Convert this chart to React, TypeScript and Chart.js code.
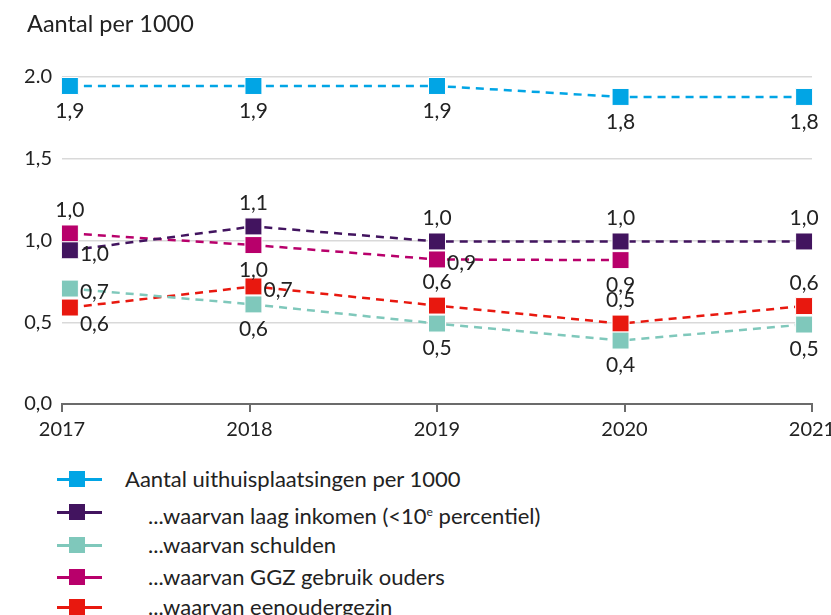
import React, { useEffect, useRef } from 'react';
import { Chart, registerables } from 'chart.js';

Chart.register(...registerables);

// ---------- data ----------
const years = [2017, 2018, 2019, 2020, 2021];
const yearLabels = ['2017', '2018', '2019', '2020', '2021'];

const totaal = [1.945, 1.945, 1.945, 1.878, 1.878];
const laagInkomen = [0.94, 1.086, 0.994, 0.994, 0.994];
const schulden = [0.706, 0.609, 0.492, 0.388, 0.486];
const ggz = [1.043, 0.972, 0.884, 0.88, null];
const eenouder = [0.59, 0.719, 0.602, 0.492, 0.599];

const totaalLabels = ['1,9', '1,9', '1,9', '1,8', '1,8'];
const laagLabels = ['1,0', '1,1', '1,0', '1,0', '1,0'];
const schuldenLabels = ['0,7', '0,6', '0,5', '0,4', '0,5'];
const ggzLabels = ['1,0', '1,0', '0,9', '0,9', ''];
const eenouderLabels = ['0,6', '0,7', '0,6', '0,5', '0,6'];

const yTickValues = [0, 0.5, 1, 1.5, 2];
const yTickLabels = ['0,0', '0,5', '1,0', '1,5', '2.0'];

const title = 'Aantal per 1000';

// ---------- styles ----------
const FONT = 'Lato, "Open Sans", sans-serif';
const TEXT = '#222222';

type Series = {
  name: React.ReactNode;
  color: string;
  values: (number | null)[];
  labels: string[];
  place: string[];
  indent: boolean;
};

const series: Series[] = [
  { name: 'Aantal uithuisplaatsingen per 1000', color: '#01a5e5', values: totaal, labels: totaalLabels, place: ['b', 'b', 'b', 'b', 'b'], indent: false },
  { name: <>...waarvan laag inkomen (&lt;10<sup style={{ fontSize: '0.55em', verticalAlign: '0.7em' }}>e</sup> percentiel)</>, color: '#42145f', values: laagInkomen, labels: laagLabels, place: ['r', 'a', 'a', 'a', 'a'], indent: true },
  { name: '...waarvan schulden', color: '#7fc8bb', values: schulden, labels: schuldenLabels, place: ['r', 'b', 'b', 'b', 'b'], indent: true },
  { name: '...waarvan GGZ gebruik ouders', color: '#b8006b', values: ggz, labels: ggzLabels, place: ['a', 'b', 'r', 'b', ''], indent: true },
  { name: '...waarvan eenoudergezin', color: '#e8180f', values: eenouder, labels: eenouderLabels, place: ['rb', 'r', 'a', 'a', 'a'], indent: true },
];

const labelPlugin = {
  id: 'pointLabels',
  afterDatasetsDraw(chart: any) {
    const ctx = chart.ctx;
    ctx.save();
    ctx.font = `21px ${FONT}`;
    ctx.fillStyle = TEXT;
    ctx.textBaseline = 'middle';
    chart.data.datasets.forEach((ds: any, di: number) => {
      const meta = chart.getDatasetMeta(di);
      const s = series[di];
      meta.data.forEach((pt: any, i: number) => {
        const txt = s.labels[i];
        const p = s.place[i];
        if (!txt || !p || ds.data[i].y == null) return;
        let x = pt.x;
        let y = pt.y;
        if (p === 'a') { ctx.textAlign = 'center'; y -= 23; }
        else if (p === 'b') { ctx.textAlign = 'center'; y += 25; }
        else if (p === 'r') { ctx.textAlign = 'left'; x += 10; y += 4; }
        else if (p === 'rb') { ctx.textAlign = 'left'; x += 10; y += 17; }
        ctx.fillText(txt, x, y);
      });
    });
    ctx.restore();
  },
  afterDraw(chart: any) {
    const ctx = chart.ctx;
    ctx.save();
    ctx.font = `23.5px ${FONT}`;
    ctx.fillStyle = TEXT;
    ctx.textBaseline = 'alphabetic';
    ctx.textAlign = 'left';
    ctx.fillText(title, 27, 32);
    ctx.restore();
  },
};

export default function App() {
  const ref = useRef<HTMLCanvasElement | null>(null);

  useEffect(() => {
    if (!ref.current) return;
    const chart = new Chart(ref.current, {
      type: 'line',
      data: {
        labels: yearLabels,
        datasets: series.map((s) => ({
          label: typeof s.name === 'string' ? s.name : 'laag inkomen',
          data: s.values.map((v, i) => ({ x: years[i], y: v })),
          xAxisID: 'x2',
          yAxisID: 'y',
          borderColor: s.color,
          backgroundColor: s.color,
          borderWidth: 2.5,
          borderDash: [8, 6],
          pointStyle: 'rect',
          pointRadius: 12,
          pointBackgroundColor: s.color,
          pointBorderColor: '#ffffff',
          pointBorderWidth: 1,
          tension: 0,
          clip: false,
        })) as any,
      },
      options: {
        animation: false,
        responsive: false,
        maintainAspectRatio: false,
        layout: { padding: { top: 77, right: 19, left: 0, bottom: 0 } },
        plugins: { legend: { display: false }, tooltip: { enabled: false }, title: { display: false } },
        scales: {
          x: {
            type: 'category',
            labels: yearLabels,
            offset: false,
            position: 'bottom',
            grid: { drawOnChartArea: false, drawTicks: true, tickLength: 8, color: '#6b6b6b', lineWidth: 2 },
            border: { display: true, color: '#6b6b6b', width: 2 },
            ticks: { color: TEXT, font: { family: FONT, size: 20 }, padding: 6, maxRotation: 0, autoSkip: false },
            afterFit: (s: any) => { s.height = 56; s.paddingLeft = 0; s.paddingRight = 0; },
          },
          x2: { type: 'linear', display: false, min: 2017 - 0.043, max: 2021 + 0.043 },
          y: {
            min: 0,
            max: 2,
            ticks: {
              stepSize: 0.5,
              color: TEXT,
              font: { family: FONT, size: 20 },
              padding: 10,
              callback: (v: any) => {
                const i = yTickValues.findIndex((t) => Math.abs(t - Number(v)) < 1e-6);
                return i >= 0 ? yTickLabels[i] : '';
              },
            },
            grid: { color: '#d9d9d9', lineWidth: 1.5, drawTicks: false },
            border: { display: false },
            afterFit: (s: any) => { s.width = 62; },
          },
        } as any,
      },
      plugins: [labelPlugin],
    });
    return () => chart.destroy();
  }, []);

  const rowY = [479, 512, 545, 577, 607];

  return (
    <div style={{ position: 'fixed', left: 0, top: 0, width: 831, height: 615, background: '#fff', overflow: 'hidden', fontFamily: FONT }}>
      <canvas ref={ref} width={831} height={460} style={{ position: 'absolute', left: 0, top: 0, width: 831, height: 460 }} />
      {series.map((s, i) => (
        <div key={i} style={{ position: 'absolute', left: 0, top: rowY[i] - 15, height: 30, width: 831 }}>
          <div style={{ position: 'absolute', left: 57, top: 13.5, width: 45, height: 3, background: s.color }} />
          <div style={{ position: 'absolute', left: 69, top: 7, width: 16, height: 16, background: s.color }} />
          <div style={{ position: 'absolute', left: s.indent ? 148 : 125, top: 0, height: 30, lineHeight: '30px', fontSize: 22, color: TEXT, whiteSpace: 'nowrap' }}>
            {s.name}
          </div>
        </div>
      ))}
    </div>
  );
}
